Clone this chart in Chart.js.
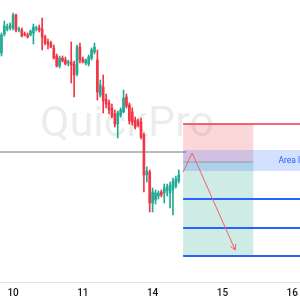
<!DOCTYPE html>
<html>
<head>
<meta charset="utf-8">
<script src="https://cdn.jsdelivr.net/npm/chart.js@4.4.1/dist/chart.umd.min.js"></script>
<style>
  html, body { margin: 0; padding: 0; background: #ffffff; }
  #wrap { width: 300px; height: 300px; }
</style>
</head>
<body>
<div id="wrap"><canvas id="chart"></canvas></div>
<script>
// hourly candles, hour 0 = first bar on screen
const hours = [0, 1, 2, 3, 4, 5, 6, 7, 8, 9, 10, 11, 12, 13, 14, 15, 16, 17, 18, 19,
    20, 21, 22, 23, 24, 25, 26, 27, 28, 29, 30, 31, 32, 33, 34, 35, 36, 37, 38, 39,
    40, 41, 42, 43, 44, 45, 46, 47, 48, 49, 50, 51, 52, 53, 54, 55, 56, 57, 58, 59, 60, 61];

const open = [1.0947, 1.0966, 1.0971, 1.0972, 1.0972, 1.0985, 1.0970, 1.0970, 1.0966, 1.0965,
    1.0965, 1.0967, 1.0971, 1.0972, 1.0971, 1.0963, 1.0958, 1.0957, 1.0952, 1.0944,
    1.0934, 1.0942, 1.0940, 1.0937, 1.0938, 1.0936, 1.0926, 1.0953, 1.0941, 1.0937,
    1.0936, 1.0942, 1.0948, 1.0940, 1.0905, 1.0913, 1.0901, 1.0897, 1.0892, 1.0886,
    1.0876, 1.0885, 1.0888, 1.0903, 1.0895, 1.0888, 1.0880, 1.0879, 1.0878, 1.0865,
    1.0825, 1.0828, 1.0797, 1.0800, 1.0804, 1.0808, 1.0807, 1.0809, 1.0807, 1.0810,
    1.0814, 1.0819];
const high = [1.0967, 1.0979, 1.0976, 1.0977, 1.0987, 1.0986, 1.0973, 1.0972, 1.0968, 1.0967,
    1.0970, 1.0976, 1.0974, 1.0975, 1.0982, 1.0965, 1.0961, 1.0959, 1.0955, 1.0946,
    1.0944, 1.0944, 1.0943, 1.0940, 1.0958, 1.0939, 1.0955, 1.0957, 1.0943, 1.0941,
    1.0945, 1.0952, 1.0957, 1.0950, 1.0920, 1.0925, 1.0906, 1.0900, 1.0896, 1.0890,
    1.0889, 1.0892, 1.0910, 1.0906, 1.0897, 1.0892, 1.0883, 1.0881, 1.0882, 1.0867,
    1.0833, 1.0830, 1.0812, 1.0810, 1.0809, 1.0810, 1.0816, 1.0816, 1.0818, 1.0822,
    1.0824, 1.0830];
const low = [1.0944, 1.0964, 1.0969, 1.0970, 1.0970, 1.0968, 1.0968, 1.0963, 1.0964, 1.0962,
    1.0964, 1.0956, 1.0969, 1.0968, 1.0950, 1.0955, 1.0951, 1.0952, 1.0941, 1.0933,
    1.0932, 1.0938, 1.0935, 1.0934, 1.0917, 1.0903, 1.0924, 1.0937, 1.0937, 1.0935,
    1.0934, 1.0940, 1.0946, 1.0900, 1.0903, 1.0887, 1.0892, 1.0886, 1.0882, 1.0873,
    1.0862, 1.0883, 1.0887, 1.0892, 1.0876, 1.0875, 1.0871, 1.0873, 1.0861, 1.0808,
    1.0818, 1.0788, 1.0788, 1.0796, 1.0801, 1.0803, 1.0797, 1.0804, 1.0792, 1.0785,
    1.0812, 1.0817];
const close = [1.0965, 1.0974, 1.0973, 1.0975, 1.0985, 1.0970, 1.0971, 1.0964, 1.0965, 1.0963,
    1.0969, 1.0973, 1.0972, 1.0970, 1.0963, 1.0957, 1.0956, 1.0953, 1.0942, 1.0934,
    1.0942, 1.0939, 1.0936, 1.0938, 1.0935, 1.0925, 1.0953, 1.0940, 1.0938, 1.0940,
    1.0943, 1.0950, 1.0953, 1.0908, 1.0915, 1.0899, 1.0896, 1.0890, 1.0884, 1.0876,
    1.0887, 1.0890, 1.0902, 1.0894, 1.0879, 1.0878, 1.0873, 1.0875, 1.0863, 1.0825,
    1.0829, 1.0797, 1.0808, 1.0807, 1.0807, 1.0805, 1.0812, 1.0813, 1.0815, 1.0819,
    1.0821, 1.0825];

const dayTicks = [4, 28, 52, 76, 100];
const dayLabels = ['10', '11', '14', '15', '16'];

// drawings
const priceLine = [1.0848];            // grey horizontal line
const priceLineHours = [-1, 63.5];
const boxHours = [62.5, 86.6];         // long/short position box
const stopPrice = [1.0876];
const entryPrice = [1.0838];
const targetPrice = [1.0744];
const areaPrices = [1.0850, 1.0829];   // blue zone
const areaLabel = ['Area liquidez'];
const areaLabelHour = [95.3];
const levelPrices = [1.0801, 1.0772, 1.0744];
const lineEndHour = [110];
const arrowHours = [62.5, 65.6, 80.4];
const arrowPrices = [1.0828, 1.0847, 1.0750];

const UP = '#22ab94';
const DOWN = '#f23645';
const colors = close.map((c, i) => c >= open[i] ? UP : DOWN);

const drawings = {
    id: 'drawings',
    beforeDatasetsDraw(chart) {
        const { ctx, chartArea } = chart;
        ctx.save();
        ctx.fillStyle = 'rgba(0, 0, 0, 0.075)';
        ctx.font = '43px Roboto';
        ctx.textAlign = 'center';
        ctx.textBaseline = 'alphabetic';
        ctx.fillText('QuickPro', chartArea.left + 127, chartArea.top + 136);
        ctx.restore();
    },
    afterDatasetsDraw(chart) {
        const { ctx } = chart;
        const xs = chart.scales.x;
        const ys = chart.scales.y;
        const X = v => xs.getPixelForValue(v);
        const Y = v => ys.getPixelForValue(v);
        const hline = (p, h0, h1, color, w) => {
            ctx.beginPath();
            ctx.strokeStyle = color;
            ctx.lineWidth = w;
            ctx.moveTo(X(h0), Y(p));
            ctx.lineTo(X(h1), Y(p));
            ctx.stroke();
        };

        ctx.save();
        // grey price line
        hline(priceLine[0], priceLineHours[0], priceLineHours[1], '#6f727d', 1);

        // stop (red) and target (green) zones
        ctx.fillStyle = 'rgba(242, 54, 69, 0.2)';
        ctx.fillRect(X(boxHours[0]), Y(stopPrice[0]), X(boxHours[1]) - X(boxHours[0]), Y(entryPrice[0]) - Y(stopPrice[0]));
        ctx.fillStyle = 'rgba(8, 153, 129, 0.2)';
        ctx.fillRect(X(boxHours[0]), Y(entryPrice[0]), X(boxHours[1]) - X(boxHours[0]), Y(targetPrice[0]) - Y(entryPrice[0]));

        // blue area
        ctx.fillStyle = 'rgba(41, 98, 255, 0.2)';
        ctx.fillRect(X(boxHours[0]), Y(areaPrices[0]), X(lineEndHour[0]) - X(boxHours[0]), Y(areaPrices[1]) - Y(areaPrices[0]));
        ctx.fillStyle = '#2962ff';
        ctx.font = '8.5px Roboto';
        ctx.textAlign = 'left';
        ctx.textBaseline = 'middle';
        ctx.fillText(areaLabel[0], X(areaLabelHour[0]), Y((areaPrices[0] + areaPrices[1]) / 2));

        // entry line
        hline(entryPrice[0], boxHours[0], boxHours[1], '#9598a1', 1);
        // stop line
        hline(stopPrice[0], boxHours[0], lineEndHour[0], '#f23645', 1.5);
        // levels
        levelPrices.forEach(p => hline(p, boxHours[0], lineEndHour[0], '#2962ff', 2));

        // arrow path
        ctx.beginPath();
        ctx.strokeStyle = '#f0606c';
        ctx.lineWidth = 1;
        arrowHours.forEach((h, i) => {
            if (i === 0) ctx.moveTo(X(h), Y(arrowPrices[i]));
            else ctx.lineTo(X(h), Y(arrowPrices[i]));
        });
        ctx.stroke();
        const n = arrowHours.length - 1;
        const tx = X(arrowHours[n]), ty = Y(arrowPrices[n]);
        const ang = Math.atan2(ty - Y(arrowPrices[n - 1]), tx - X(arrowHours[n - 1]));
        ctx.beginPath();
        ctx.moveTo(tx - 6 * Math.cos(ang - 0.5), ty - 6 * Math.sin(ang - 0.5));
        ctx.lineTo(tx, ty);
        ctx.lineTo(tx - 6 * Math.cos(ang + 0.5), ty - 6 * Math.sin(ang + 0.5));
        ctx.stroke();
        ctx.restore();
    }
};

new Chart(document.getElementById('chart'), {
    type: 'bar',
    data: {
        datasets: [
            {
                label: 'body',
                data: hours.map((h, i) => ({ x: h, y: [open[i], close[i]] })),
                backgroundColor: colors,
                barThickness: 2,
                minBarLength: 1,
                grouped: false
            },
            {
                label: 'wick',
                data: hours.map((h, i) => ({ x: h, y: [low[i], high[i]] })),
                backgroundColor: colors,
                barThickness: 1,
                grouped: false
            }
        ]
    },
    options: {
        responsive: true,
        maintainAspectRatio: false,
        animation: false,
        layout: { padding: 0 },
        plugins: {
            legend: { display: false },
            tooltip: { enabled: false }
        },
        scales: {
            x: {
                type: 'linear',
                offset: false,
                min: -0.5,
                max: 102.7,
                grid: { display: false, drawTicks: false },
                border: { display: true, color: '#e0e3eb', width: 1 },
                afterBuildTicks: axis => {
                    axis.ticks = dayTicks.map(v => ({ value: v }));
                },
                afterFit: axis => {
                    axis.height = 18;
                    axis.paddingLeft = 0;
                    axis.paddingRight = 0;
                },
                ticks: {
                    padding: 5,
                    color: '#131722',
                    font: { family: 'Roboto', size: 10, weight: '500' },
                    maxRotation: 0,
                    callback: (v) => {
                        const i = dayTicks.indexOf(v);
                        return i >= 0 ? dayLabels[i] : '';
                    }
                }
            },
            y: {
                display: false,
                min: 1.0718,
                max: 1.1000
            }
        }
    },
    plugins: [drawings]
});
</script>
</body>
</html>
